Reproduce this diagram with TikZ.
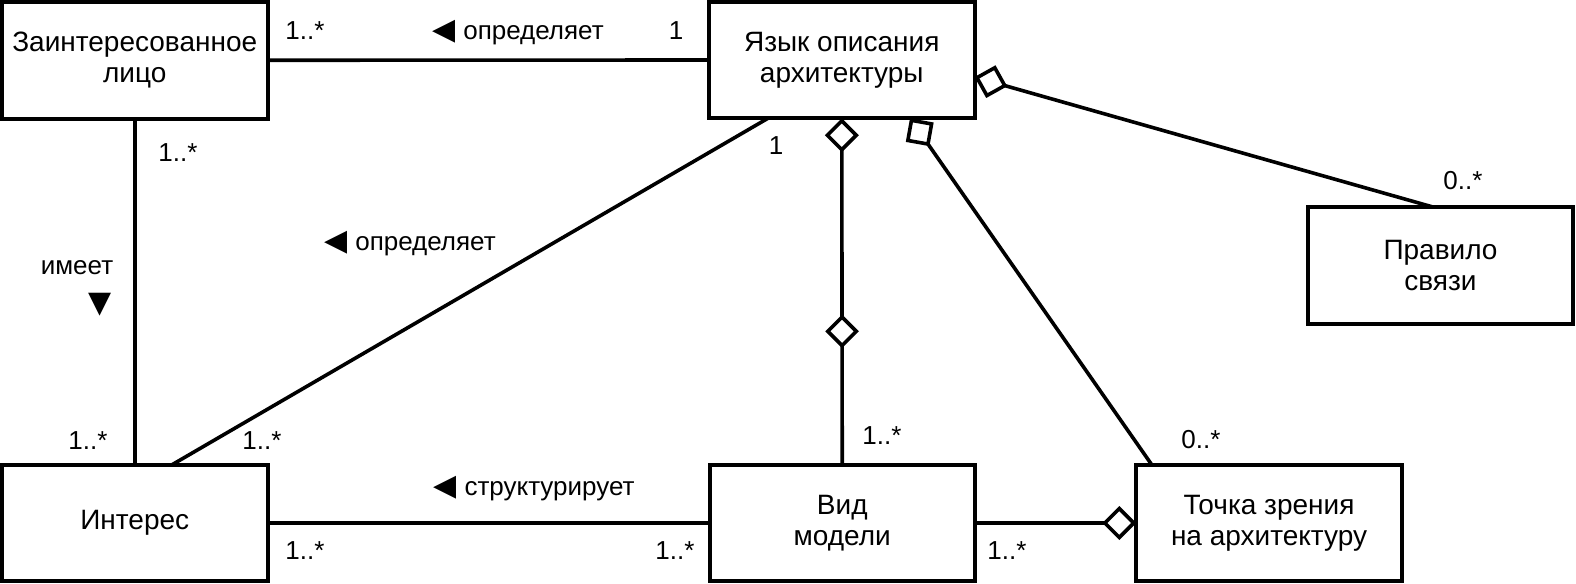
\documentclass[tikz,border=0pt]{standalone}
\usepackage{fontspec}
\setmainfont{Liberation Sans}
\newfontfamily\symfont{DejaVu Sans}
\usetikzlibrary{arrows.meta,shapes.geometric,calc}
\newcommand{\ltri}{{\symfont\fontsize{15}{15}\selectfont ◀}\hspace{4pt}}
\begin{document}
\begin{tikzpicture}[x=0.5pt,y=-0.5pt,
  box/.style={draw,line width=2pt,minimum width=132.75pt,minimum height=58.25pt,inner sep=0pt,outer sep=0pt,align=center,font=\fontsize{14}{15.5}\selectfont},
  conn/.style={line width=1.8pt},
  agg/.style={{Diamond[open,length=17pt,width=17pt]}-},
  lbl/.style={font=\fontsize{13}{14}\selectfont,inner sep=0pt},
  middia/.style={diamond,draw,fill=white,line width=1.8pt,minimum width=15pt,minimum height=15pt,inner sep=0pt,aspect=1}
]
\useasboundingbox (0,0) rectangle (1576,584);

\node[box] (stake) at (134.75,60.25) {Заинтересованное\\лицо};
\node[box] (lang) at (841.75,60) {Язык описания\\архитектуры};
\node[box] (rule) at (1440.5,265.5) {Правило\\связи};
\node[box] (interest) at (134.75,523) {Интерес};
\node[box] (view) at (842.25,523) {Вид\\модели};
\node[box] (vp) at (1269,523) {Точка зрения\\на архитектуру};

% connectors
\draw[conn] (stake.east) -- (lang.west);
\draw[conn] (stake.south) -- (interest.north);
\draw[conn] ([xshift=29.5pt]lang.south west) -- ([xshift=85pt]interest.north west);
\draw[conn] (interest.east) -- (view.west);
\draw[conn,agg] (lang.south) -- node[middia,pos=0.615] (md) {} (view.north);
\draw[conn,agg] ([xshift=100.5pt]lang.south west) -- ([xshift=7.75pt]vp.north west);
\draw[conn,agg] ([yshift=-8.5pt]lang.east) -- ([xshift=63pt]rule.north west);
\draw[conn,-{Diamond[open,length=17pt,width=17pt]}] (view.east) -- (vp.west);

% labels
\node[lbl] (m1) at (305,31) {1..*};
\node[lbl] (r1) at (518,33) {\ltri определяет};
\node[lbl] (m2) at (676,31) {1};
\node[lbl] (m3) at (178,153) {1..*};
\node[lbl] (r2) at (77,268) {имеет};
\node[lbl] (r2t) at (100,305) {\symfont\fontsize{15}{15}\selectfont ▼};
\node[lbl] (r3) at (410,244) {\ltri определяет};
\node[lbl] (m4) at (776,146) {1};
\node[lbl] (m5) at (88,441) {1..*};
\node[lbl] (m6) at (262,441) {1..*};
\node[lbl] (r4) at (534,489) {\ltri структурирует};
\node[lbl] (m7) at (305,551) {1..*};
\node[lbl] (m8) at (675,551) {1..*};
\node[lbl] (m9) at (882,436) {1..*};
\node[lbl] (m10) at (1007,551) {1..*};
\node[lbl] (m11) at (1201,440) {0..*};
\node[lbl] (m12) at (1463,181) {0..*};
\end{tikzpicture}
\end{document}
